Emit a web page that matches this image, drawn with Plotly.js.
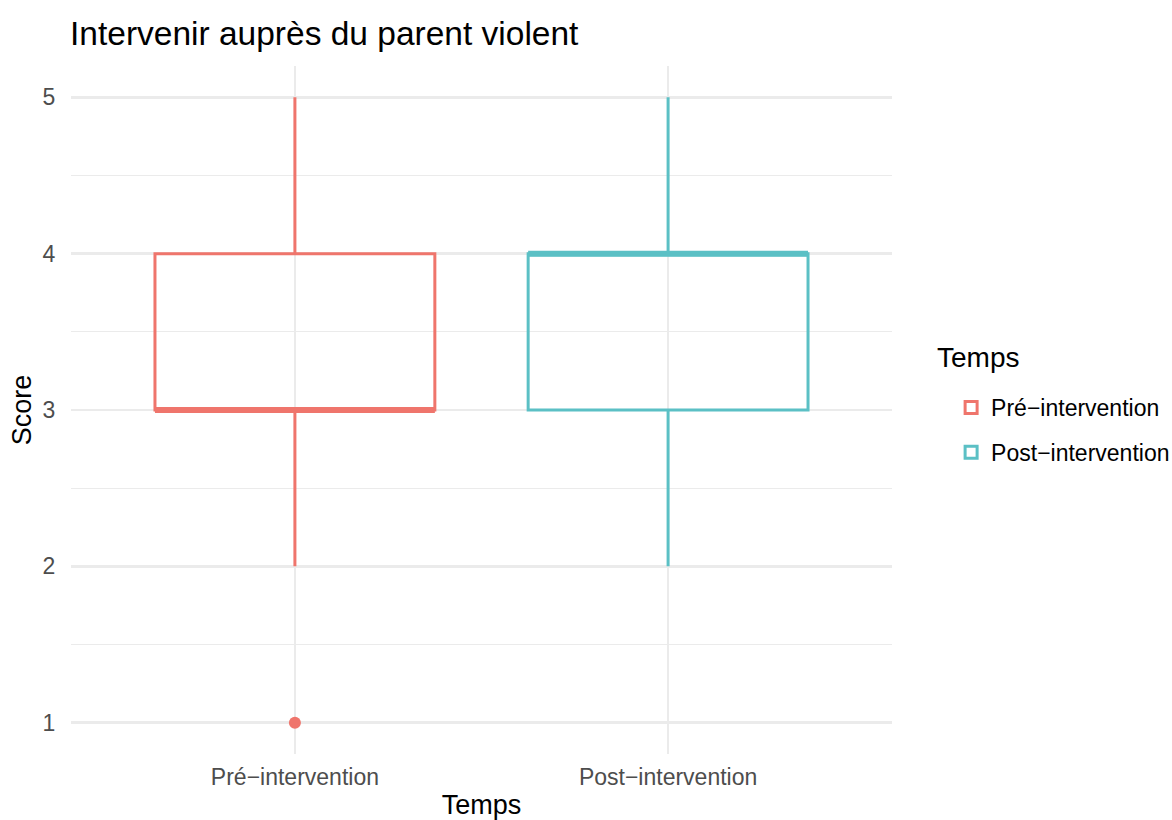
<!DOCTYPE html>
<html>
<head>
<meta charset="utf-8">
<script src="https://cdn.plot.ly/plotly-3.0.1.min.js"></script>
<style>html,body{margin:0;padding:0;background:#fff;}#chart{width:1172px;height:820px;}</style>
</head>
<body>
<div id="chart"></div>
<script>
const categories = ["Pré\u2212intervention", "Post\u2212intervention"];
const lowerFence = [2, 2];
const q1 = [3, 3];
const median = [3, 4];
const q3 = [4, 4];
const upperFence = [5, 5];
const outlierCat = ["Pré\u2212intervention"];
const outlierVal = [1];
const colors = ["#EF756C", "#5BC0C5"];
const boxWidth = 0.75;

const traces = [];
categories.forEach((c, i) => {
  traces.push({
    type: "box",
    name: c,
    x: [c],
    q1: [q1[i]], median: [median[i]], q3: [q3[i]],
    lowerfence: [lowerFence[i]], upperfence: [upperFence[i]],
    width: boxWidth,
    whiskerwidth: 0,
    line: {color: colors[i], width: 3},
    fillcolor: "rgba(255,255,255,0)",
    boxpoints: false,
    hoverinfo: "skip",
    legendgroup: c
  });
  // thicker median (ggplot fatten)
  traces.push({
    type: "scatter", mode: "lines",
    xaxis: "x2",
    x: [i - boxWidth / 2, i + boxWidth / 2],
    y: [median[i], median[i]],
    line: {color: colors[i], width: 6},
    showlegend: false, hoverinfo: "skip"
  });
});
traces.push({
  type: "scatter", mode: "markers",
  x: outlierCat, y: outlierVal,
  marker: {color: colors[0], size: 12},
  showlegend: false, hoverinfo: "skip"
});

const layout = {
  width: 1172, height: 820,
  paper_bgcolor: "#fff", plot_bgcolor: "#fff",
  font: {family: "Liberation Sans, Arial, sans-serif", color: "#000"},
  margin: {l: 71, r: 280, t: 66, b: 66, autoexpand: false},
  title: {text: "Intervenir auprès du parent violent", x: 70/1172, xanchor: "left", y: 1 - 33/820, yanchor: "middle", font: {size: 33.5, color: "#000"}},
  showlegend: true,
  legend: {
    x: 1.072, xanchor: "left", y: 0.471, yanchor: "middle",
    font: {size: 23, color: "#000"},
    tracegroupgap: 12
  },
  annotations: [{
    text: "Temps", xref: "paper", yref: "paper",
    x: 1.0524, xanchor: "left", y: 0.5756, yanchor: "middle",
    showarrow: false, font: {size: 28, color: "#000"}
  }],
  xaxis: {
    type: "category",
    categoryorder: "array", categoryarray: categories,
    range: [-0.6, 1.6],
    showgrid: true, gridcolor: "#EBEBEB", gridwidth: 2.5,
    zeroline: false, showline: false,
    ticks: "outside", ticklen: 2, tickcolor: "rgba(0,0,0,0)",
    tickfont: {size: 23, color: "#4D4D4D"},
    title: {text: "Temps", font: {size: 27}, standoff: 8}
  },
  xaxis2: {
    overlaying: "x", range: [-0.6, 1.6], visible: false, showgrid: false, zeroline: false
  },
  yaxis: {
    range: [0.8, 5.2],
    tickvals: [1, 2, 3, 4, 5],
    showgrid: true, gridcolor: "#EBEBEB", gridwidth: 2.5,
    minor: {dtick: 0.5, showgrid: true, gridcolor: "#EBEBEB", gridwidth: 1.2, ticks: ""},
    zeroline: false, showline: false,
    ticks: "outside", ticklen: 10, tickcolor: "rgba(0,0,0,0)",
    tickfont: {size: 23, color: "#4D4D4D"},
    title: {text: "Score", font: {size: 27}, standoff: 3}
  }
};

Plotly.newPlot("chart", traces, layout, {displayModeBar: false, staticPlot: true});
</script>
</body>
</html>
